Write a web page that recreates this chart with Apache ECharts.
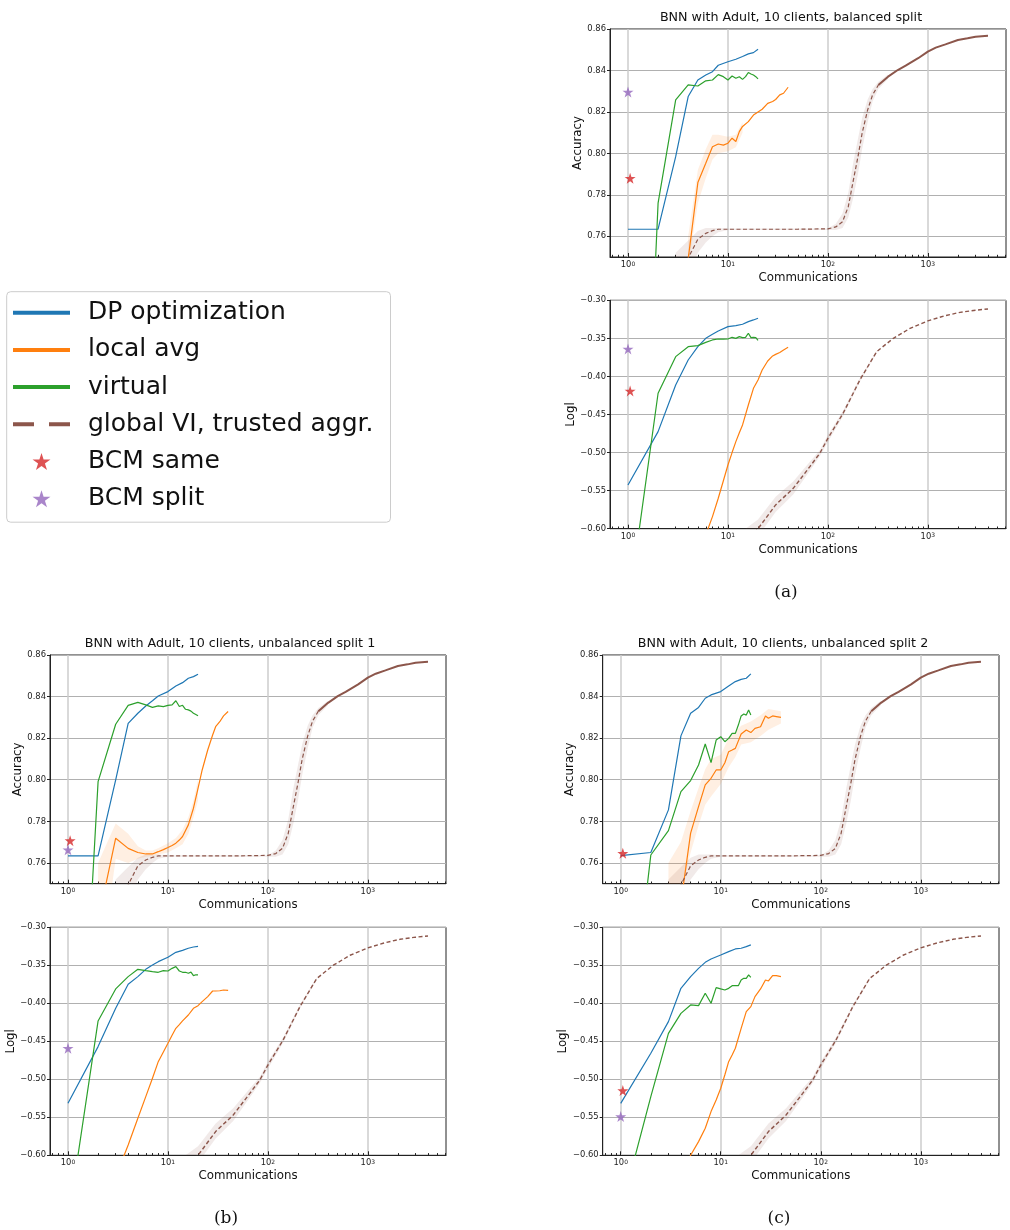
<!DOCTYPE html>
<html>
<head>
<meta charset="utf-8">
<script src="https://cdn.jsdelivr.net/npm/echarts@6/dist/echarts.min.js"></script>
<style>
  html, body { margin: 0; padding: 0; background: #fff; }
  #chart { width: 1010px; height: 1230px; }
</style>
</head>
<body>
<div id="chart"></div>
<script>
// ---- data (x = number of communications) ----
const dpX = [1, 2, 3, 4, 5, 6, 7, 8, 10, 12, 14, 16, 18, 20];
const virtX = [1, 2, 3, 4, 5, 6, 7, 8, 9, 10, 11, 12, 13, 14, 15, 16, 17, 18, 19, 20];
const locX = [1, 2, 3, 4, 5, 6, 7, 8, 9, 10, 11, 12, 13, 14, 16, 18, 20, 22, 25, 28, 30, 33, 36, 40];
const gvAccX = [1, 2, 3, 4, 5, 6, 7, 8, 10, 20, 50, 100, 120, 140, 160, 180, 200, 220, 250, 280, 320, 400, 500, 600, 800, 1000, 1200, 1500, 2000, 2500, 3000, 4000];
const gvLoglX = [1, 2, 5, 10, 20, 30, 45, 66, 83, 100, 142, 209, 308, 452, 664, 1000, 1450, 2100, 3000, 4000];
const bcmSameX = 1.05;
const bcmSplitX = 1.0;

// global VI, trusted aggregation (same run in every panel)
const gvAcc = [0.70, 0.72, 0.74, 0.7495, 0.7586, 0.7614, 0.7627, 0.7634, 0.7634, 0.7634, 0.7634, 0.7636, 0.7645, 0.767, 0.7743, 0.7872, 0.7984, 0.8097, 0.821, 0.8282, 0.833, 0.837, 0.8402, 0.8423, 0.8459, 0.8491, 0.851, 0.8526, 0.8547, 0.8555, 0.8563, 0.8568];
const gvLogl = [-0.80, -0.75, -0.68, -0.64, -0.60, -0.5688, -0.547, -0.5185, -0.501, -0.4813, -0.4484, -0.4046, -0.3674, -0.3499, -0.3368, -0.3271, -0.3206, -0.3158, -0.313, -0.3114];
// shaded spread around global VI
const gvAccBandX = [3, 4, 5, 6, 7, 8, 10, 100, 120, 140, 160, 180, 200, 220, 250, 280, 320, 400];
const gvAccLo = [0.72, 0.74, 0.752, 0.757, 0.760, 0.762, 0.763, 0.763, 0.763, 0.764, 0.769, 0.779, 0.790, 0.802, 0.815, 0.825, 0.831, 0.836];
const gvAccHi = [0.752, 0.758, 0.7625, 0.764, 0.764, 0.764, 0.7637, 0.7637, 0.766, 0.771, 0.781, 0.796, 0.807, 0.817, 0.826, 0.831, 0.8345, 0.838];
const gvLoglBandX = [15, 20, 30, 45, 66, 83, 100, 142, 209, 308];
const gvLoglLo = [-0.625, -0.61, -0.578, -0.555, -0.524, -0.505, -0.486, -0.452, -0.407, -0.369];
const gvLoglHi = [-0.60, -0.588, -0.558, -0.538, -0.512, -0.497, -0.477, -0.445, -0.402, -0.366];

// (a) balanced split
const aDpAcc = [0.7634, 0.7634, 0.7984, 0.8274, 0.8354, 0.8378, 0.8394, 0.8425, 0.8442, 0.8454, 0.8467, 0.848, 0.8486, 0.8502];
const aDpLogl = [-0.5426, -0.4725, -0.4112, -0.3784, -0.3609, -0.3499, -0.3447, -0.3403, -0.3346, -0.3333, -0.3315, -0.328, -0.3258, -0.3236];
const aVirtAcc = [0.45, 0.776, 0.8258, 0.833, 0.8325, 0.835, 0.8354, 0.838, 0.837, 0.8354, 0.8373, 0.8362, 0.837, 0.8357, 0.837, 0.839, 0.8383, 0.8378, 0.837, 0.8359];
const aVirtLogl = [-0.7076, -0.4221, -0.374, -0.3609, -0.3596, -0.3552, -0.3521, -0.3508, -0.351, -0.3508, -0.3486, -0.35, -0.3477, -0.349, -0.3486, -0.3433, -0.349, -0.3486, -0.349, -0.3525];
const aLocAcc = [0.70, 0.72, 0.735, 0.749, 0.7859, 0.7952, 0.8032, 0.8045, 0.804, 0.8049, 0.8073, 0.8057, 0.8105, 0.813, 0.8153, 0.8185, 0.82, 0.8213, 0.8241, 0.825, 0.826, 0.8282, 0.829, 0.8319];
const aLocLogl = [-0.82, -0.76, -0.71, -0.67, -0.64, -0.6082, -0.5841, -0.56, -0.537, -0.5163, -0.50, -0.4856, -0.474, -0.4637, -0.4375, -0.4156, -0.4046, -0.3915, -0.3797, -0.3731, -0.371, -0.3685, -0.3652, -0.3617];
const aLocBandX = [4, 5, 6, 7, 8, 10, 12, 14];
const aLocLo = [0.745, 0.776, 0.788, 0.797, 0.800, 0.801, 0.803, 0.81];
const aLocHi = [0.76, 0.792, 0.802, 0.809, 0.809, 0.808, 0.809, 0.815];
const aBcmSame = [0.788, -0.4191];
const aBcmSplit = [0.8296, -0.3639];

// (b) unbalanced split 1
const bDpAcc = [0.7634, 0.7634, 0.7999, 0.8271, 0.832, 0.8355, 0.838, 0.8403, 0.8424, 0.8451, 0.8467, 0.8488, 0.8496, 0.8507];
const bDpLogl = [-0.5316, -0.457, -0.4066, -0.375, -0.3649, -0.3553, -0.3496, -0.3452, -0.3395, -0.3329, -0.3303, -0.3276, -0.3259, -0.325];
const bVirtAcc = [0.5395, 0.7991, 0.8267, 0.8358, 0.8372, 0.836, 0.8348, 0.8355, 0.8352, 0.8358, 0.836, 0.838, 0.8352, 0.8358, 0.8339, 0.8336, 0.833, 0.832, 0.8314, 0.8308];
const bVirtLogl = [-0.688, -0.4232, -0.3811, -0.3649, -0.3553, -0.357, -0.3583, -0.3592, -0.357, -0.3575, -0.354, -0.3518, -0.3575, -0.3592, -0.3592, -0.3605, -0.359, -0.3636, -0.3625, -0.3627];
const bLocAcc = [0.70, 0.732, 0.7719, 0.767, 0.765, 0.7643, 0.7643, 0.7654, 0.7664, 0.7674, 0.7684, 0.7695, 0.771, 0.7727, 0.7783, 0.7863, 0.7959, 0.8047, 0.8143, 0.8215, 0.8255, 0.8279, 0.8307, 0.8328];
const bLocLogl = [-0.75, -0.68, -0.6285, -0.5864, -0.5513, -0.5228, -0.4987, -0.4768, -0.464, -0.4526, -0.442, -0.4329, -0.428, -0.4232, -0.4154, -0.4066, -0.4031, -0.3978, -0.3912, -0.3838, -0.3838, -0.3835, -0.3825, -0.3829];
const bLocBandX = [2, 3, 4, 5, 6, 7, 8, 10, 12, 14, 16, 18, 20];
const bLocLo = [0.70, 0.762, 0.760, 0.762, 0.763, 0.7635, 0.764, 0.765, 0.767, 0.769, 0.774, 0.782, 0.79];
const bLocHi = [0.76, 0.779, 0.774, 0.768, 0.766, 0.766, 0.767, 0.7695, 0.772, 0.776, 0.782, 0.79, 0.80];
const bBcmSame = [0.7707, null];
const bBcmSplit = [0.7663, -0.4592];

// (c) unbalanced split 2
const cDpAcc = [0.7635, 0.765, 0.7855, 0.8211, 0.832, 0.8348, 0.8392, 0.8408, 0.8424, 0.8451, 0.8472, 0.8483, 0.8488, 0.8509];
const cDpLogl = [-0.5316, -0.4658, -0.4241, -0.3803, -0.3649, -0.354, -0.3461, -0.3417, -0.3364, -0.332, -0.3285, -0.3276, -0.3254, -0.3232];
const cVirtAcc = [0.6398, 0.7638, 0.7755, 0.7943, 0.7996, 0.8071, 0.8172, 0.8082, 0.8191, 0.8207, 0.8183, 0.8199, 0.8223, 0.8223, 0.8263, 0.8307, 0.8316, 0.8311, 0.8336, 0.8311];
const cVirtLogl = [-0.6732, -0.5228, -0.4395, -0.4132, -0.4022, -0.4031, -0.3868, -0.40, -0.3794, -0.3811, -0.3825, -0.3803, -0.3768, -0.3768, -0.3768, -0.3693, -0.3671, -0.3671, -0.3627, -0.3658];
const cLocAcc = [0.68, 0.70, 0.72, 0.7408, 0.7743, 0.7871, 0.7975, 0.8007, 0.8047, 0.8047, 0.8082, 0.8135, 0.8143, 0.8151, 0.822, 0.8239, 0.8227, 0.8247, 0.8255, 0.8307, 0.8296, 0.8307, 0.8304, 0.83];
const cLocLogl = [-0.76, -0.70, -0.66, -0.63, -0.60, -0.582, -0.5645, -0.5425, -0.5272, -0.5118, -0.494, -0.4768, -0.468, -0.4592, -0.4329, -0.411, -0.4044, -0.3912, -0.3811, -0.3693, -0.3706, -0.3636, -0.3636, -0.3649];
const cLocBandX = [3, 4, 5, 6, 7, 8, 10, 12, 14, 16, 20, 25, 30, 40];
const cLocLo = [0.73, 0.745, 0.765, 0.778, 0.788, 0.792, 0.798, 0.806, 0.811, 0.817, 0.818, 0.821, 0.824, 0.827];
const cLocHi = [0.76, 0.77, 0.785, 0.796, 0.805, 0.810, 0.812, 0.82, 0.823, 0.826, 0.828, 0.831, 0.834, 0.833];
const cBcmSame = [0.7646, -0.5149];
const cBcmSplit = [null, -0.5491];

// ---- ticks / labels ----
const accTicks = [0.76, 0.78, 0.80, 0.82, 0.84, 0.86];
const decadeTicks = [1, 10, 100, 1000];
const minorTicks = [0.7, 0.8, 0.9, 2, 3, 4, 5, 6, 7, 8, 9, 20, 30, 40, 50, 60, 70, 80, 90,
  200, 300, 400, 500, 600, 700, 800, 900, 2000, 3000, 4000, 5000, 6000];
const titles = ['BNN with Adult, 10 clients, balanced split', 'BNN with Adult, 10 clients, unbalanced split 1', 'BNN with Adult, 10 clients, unbalanced split 2'];
const captions = ['(a)', '(b)', '(c)'];
const names = ['DP optimization', 'local avg', 'virtual', 'global VI, trusted aggr.', 'BCM same', 'BCM split'];
const colors = ['#1f77b4', '#ff7f0e', '#2ca02c', '#8c564b', '#d62728', '#9467bd'];

// matplotlib pads the log range by 5% on both sides
const lgMax = Math.log10(4000);
const xMin = -0.05 * lgMax;
const xMax = lgMax * 1.05;

const star = 'path://M50,0 L61.2,34.5 L97.6,34.5 L68.2,55.9 L79.4,90.5 L50,69.1 L20.6,90.5 L31.8,55.9 L2.4,34.5 L38.8,34.5 Z';
const font = 'DejaVu Sans';

const panels = [
  { grids: [{ left: 610, top: 29, width: 396, height: 228 }, { left: 610, top: 300.3, width: 396, height: 228.4 }],
    dp: [aDpAcc, aDpLogl], virt: [aVirtAcc, aVirtLogl], loc: [aLocAcc, aLocLogl], same: aBcmSame, split: aBcmSplit,
    locBand: [aLocBandX, aLocLo, aLocHi],
    title: [786, 6], caption: [781, 579] },
  { grids: [{ left: 50, top: 655, width: 396, height: 228.7 }, { left: 50, top: 927.3, width: 396, height: 228 }],
    dp: [bDpAcc, bDpLogl], virt: [bVirtAcc, bVirtLogl], loc: [bLocAcc, bLocLogl], same: bBcmSame, split: bBcmSplit,
    locBand: [bLocBandX, bLocLo, bLocHi],
    title: [225, 632], caption: [221, 1205] },
  { grids: [{ left: 602.7, top: 655, width: 396.3, height: 228.7 }, { left: 602.7, top: 927.3, width: 396.3, height: 228 }],
    dp: [cDpAcc, cDpLogl], virt: [cVirtAcc, cVirtLogl], loc: [cLocAcc, cLocLogl], same: cBcmSame, split: cBcmSplit,
    locBand: [cLocBandX, cLocLo, cLocHi],
    title: [778, 632], caption: [774, 1205] }
];

function pairs(xs, ys) {
  return xs.map((x, i) => [Math.log10(x), ys[i]]);
}

function fade(hex, a) {
  const n = parseInt(hex.slice(1), 16);
  return 'rgba(' + (n >> 16) + ',' + ((n >> 8) & 255) + ',' + (n & 255) + ',' + a + ')';
}

const grid = [], xAxis = [], yAxis = [], series = [], title = [];

// shaded spread: one polygon through the axis scale (upper edge, then lower edge back)
function addBand(ax, xs, lo, hi, color, alpha) {
  const rows = xs.map((x, i) => [Math.log10(x), lo[i], hi[i]]);
  series.push(Object.assign({}, ax, {
    type: 'custom', silent: true, clip: true, z: 1, animation: false,
    data: rows,
    encode: { x: 0, y: [1, 2] },
    renderItem: (params, api) => {
      if (params.dataIndex !== 0) return null;
      const upper = rows.map(r => api.coord([r[0], r[2]]));
      const lower = rows.slice().reverse().map(r => api.coord([r[0], r[1]]));
      return { type: 'polygon', shape: { points: upper.concat(lower) }, style: { fill: fade(color, alpha) } };
    }
  }));
}

panels.forEach((p, pi) => {
  title.push({
    text: titles[pi], left: p.title[0], top: p.title[1], textAlign: 'center',
    textStyle: { fontFamily: font, fontSize: 12.7, fontWeight: 'normal', color: '#111' }
  });
  title.push({
    text: captions[pi], left: p.caption[0], top: p.caption[1], textAlign: 'center',
    textStyle: { fontFamily: 'DejaVu Serif', fontSize: 17, fontWeight: 'normal', color: '#111' }
  });
  p.grids.forEach((g, k) => {
    const gi = grid.length;
    grid.push(Object.assign({ show: true, borderColor: '#222', borderWidth: 1, backgroundColor: 'transparent' }, g));
    // major x axis
    xAxis.push({
      type: 'value', gridIndex: gi, min: xMin, max: xMax, position: 'bottom',
      name: 'Communications', nameLocation: 'middle', nameGap: 15,
      nameTextStyle: { fontFamily: font, fontSize: 11.8, color: '#111', verticalAlign: 'top' },
      axisLine: { show: true, onZero: false, lineStyle: { color: '#222', width: 1 } },
      axisTick: { show: true, inside: true, length: 4, customValues: decadeTicks.map(Math.log10), lineStyle: { color: '#222', width: 1 } },
      axisLabel: {
        customValues: decadeTicks.map(Math.log10), margin: 4, fontFamily: font, color: '#222',
        formatter: v => '{b|10}{s|' + Math.round(v) + '}',
        rich: {
          b: { fontFamily: font, fontSize: 8.4, color: '#222', verticalAlign: 'bottom' },
          s: { fontFamily: font, fontSize: 6, color: '#222', verticalAlign: 'top' }
        }
      },
      splitLine: { show: true, lineStyle: { color: '#cccccc', width: 1.5 } }
    });
    // minor x ticks
    xAxis.push({
      type: 'value', gridIndex: gi, min: xMin, max: xMax, position: 'bottom',
      axisLine: { show: false },
      axisTick: { show: true, inside: true, length: 2.2, customValues: minorTicks.map(Math.log10), lineStyle: { color: '#222', width: 1 } },
      axisLabel: { show: false },
      splitLine: { show: false }
    });
    const isAcc = k === 0;
    yAxis.push({
      type: 'value', gridIndex: gi,
      min: isAcc ? 0.75 : -0.60, max: isAcc ? 0.86 : -0.30,
      interval: isAcc ? undefined : 0.05,
      name: isAcc ? 'Accuracy' : 'Logl', nameLocation: 'middle', nameRotate: 90, nameGap: isAcc ? 26 : 32,
      nameTextStyle: { fontFamily: font, fontSize: 11.8, color: '#111' },
      axisLine: { show: true, onZero: false, lineStyle: { color: '#222', width: 1 } },
      axisTick: { show: true, length: 3, lineStyle: { color: '#222' }, customValues: isAcc ? accTicks : undefined },
      axisLabel: {
        margin: 4, fontFamily: font, fontSize: 8.4, color: '#222', customValues: isAcc ? accTicks : undefined,
        formatter: v => v.toFixed(2).replace('-', '\u2212')
      },
      splitLine: { show: true, lineStyle: { color: '#b0b0b0', width: 1 } }
    });
    const ax = { xAxisIndex: gi * 2, yAxisIndex: gi };
    if (isAcc) {
      addBand(ax, gvAccBandX, gvAccLo, gvAccHi, colors[3], 0.12);
      addBand(ax, p.locBand[0], p.locBand[1], p.locBand[2], colors[1], 0.12);
    } else {
      addBand(ax, gvLoglBandX, gvLoglLo, gvLoglHi, colors[3], 0.12);
    }
    const lineBase = { type: 'line', showSymbol: false, symbol: 'none', clip: true, animation: false, z: 3 };
    series.push(Object.assign({}, lineBase, ax, { name: names[0], color: colors[0], data: pairs(dpX, p.dp[k]), lineStyle: { width: 1.2 } }));
    series.push(Object.assign({}, lineBase, ax, { name: names[1], color: colors[1], data: pairs(locX, p.loc[k]), lineStyle: { width: 1.2 } }));
    series.push(Object.assign({}, lineBase, ax, { name: names[2], color: colors[2], data: pairs(virtX, p.virt[k]), lineStyle: { width: 1.2 } }));
    if (isAcc) {
      // the noisy tail of the accuracy curve reads as a solid jagged line
      const all = pairs(gvAccX, gvAcc);
      series.push(Object.assign({}, lineBase, ax, { name: names[3], color: colors[3], data: all.filter(d => d[0] <= Math.log10(320)), lineStyle: { width: 1.2, type: [4, 2.5] } }));
      series.push(Object.assign({}, lineBase, ax, { name: names[3], color: colors[3], data: all.filter(d => d[0] >= Math.log10(320)), lineStyle: { width: 2 } }));
    } else {
      series.push(Object.assign({}, lineBase, ax, { name: names[3], color: colors[3], data: pairs(gvLoglX, gvLogl), lineStyle: { width: 1.4, type: [4, 2.5] } }));
    }
    series.push(Object.assign({}, ax, {
      type: 'scatter', name: names[4], color: colors[4], symbol: star, symbolSize: 11, z: 5, animation: false,
      data: p.same[k] == null ? [] : [[Math.log10(bcmSameX), p.same[k]]]
    }));
    series.push(Object.assign({}, ax, {
      type: 'scatter', name: names[5], color: colors[5], symbol: star, symbolSize: 11, z: 5, animation: false,
      data: p.split[k] == null ? [] : [[Math.log10(bcmSplitX), p.split[k]]]
    }));
  });
});

const chart = echarts.init(document.getElementById('chart'), null, { renderer: 'canvas' });
chart.setOption({
  backgroundColor: '#fff',
  animation: false,
  title: title,
  legend: {
    orient: 'vertical', left: 6.7, top: 291.7,
    padding: [8.5, 17, 11, 6.3],
    itemWidth: 57, itemHeight: 17, itemGap: 12.2,
    borderColor: '#cccccc', borderWidth: 1, borderRadius: 4, backgroundColor: '#fff',
    selectedMode: false,
    itemStyle: { borderWidth: 0 },
    textStyle: { fontFamily: font, fontSize: 25, lineHeight: 25, color: '#111', padding: [0, 0, 0, 13] },
    data: [
      { name: names[0], icon: 'path://M0,0h57v4h-57z' },
      { name: names[1], icon: 'path://M0,0h57v4h-57z' },
      { name: names[2], icon: 'path://M0,0h57v4h-57z' },
      { name: names[3], icon: 'path://M0,0h21v4h-21zM36,0h21v4h-21z' },
      { name: names[4], icon: star },
      { name: names[5], icon: star }
    ]
  },
  grid: grid,
  xAxis: xAxis,
  yAxis: yAxis,
  series: series
});
</script>
</body>
</html>
